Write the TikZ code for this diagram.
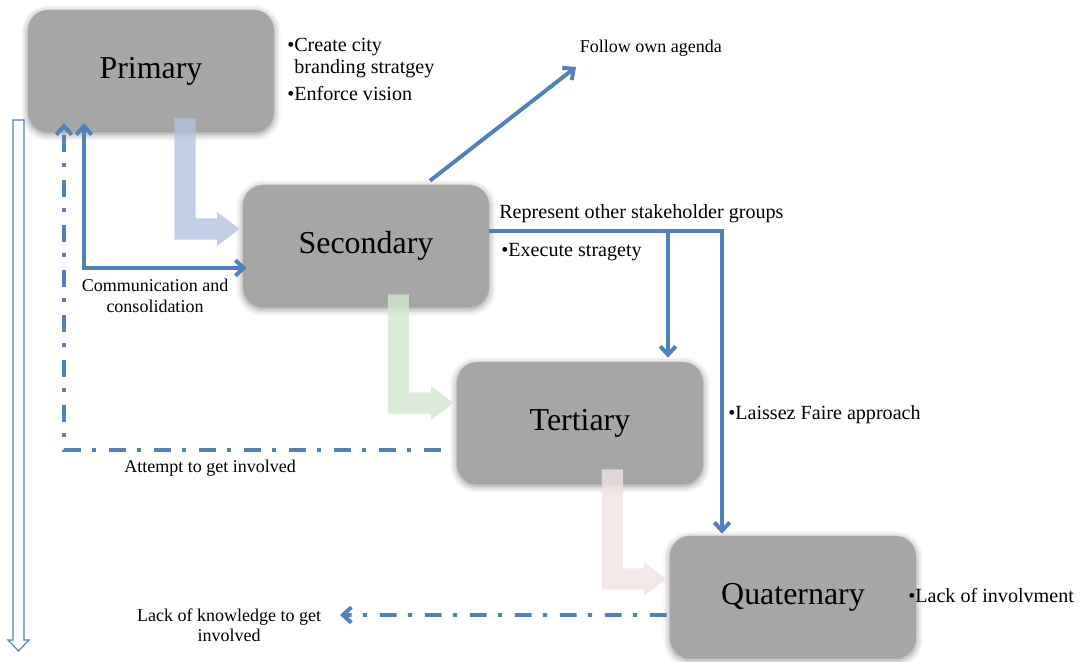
\documentclass[tikz,border=0pt]{standalone}
\usepackage{fontspec}
\setmainfont{Liberation Serif}
\usetikzlibrary{arrows.meta,positioning,shadows.blur}

\definecolor{linkblue}{RGB}{79,129,189}
\definecolor{boxgray}{RGB}{166,166,166}
\definecolor{flowblue}{RGB}{178,194,222}
\definecolor{flowgreen}{RGB}{210,232,208}
\definecolor{flowpink}{RGB}{240,226,226}

\tikzset{
  stage/.style={rounded corners=0.5cm, fill=boxgray, minimum width=6.15cm,
    minimum height=3.05cm, font=\fontsize{22.7}{27}\selectfont,
    blur shadow={shadow xshift=0pt, shadow yshift=-1.5pt, shadow blur radius=5pt, shadow opacity=45}},
  link/.style={draw=linkblue, line width=2.8pt, ->},
  dashlink/.style={link, dash pattern=on 12pt off 9pt on 3pt off 8pt},
  flow/.style={line width=15pt, -{Triangle[length=16pt,width=23pt]}},
  note/.style={font=\fontsize{12.8}{14.5}\selectfont, align=center},
  point/.style={font=\fontsize{14.3}{16}\selectfont, align=left, anchor=west, inner sep=0pt},
  >={Straight Barb[length=6pt,width=11pt]}
}

\begin{document}
\begin{tikzpicture}[x=0.025cm, y=-0.025cm]
  \useasboundingbox (0,0) rectangle (1086,662);

  % stakeholder levels
  \node[stage] (prim) at (151,71) {Primary};
  \node[stage] (sec) at (366,246) {Secondary};
  \node[stage] (ter) at (580,423) {Tertiary};
  \node[stage] (quat) at (793,597) {Quaternary};

  % flow between levels
  \begin{scope}[transparency group, opacity=0.8]
    \draw[flow, flowblue] ([xshift=0.85cm,yshift=0.35cm]prim.south) |- ([xshift=-0.075cm,yshift=0.425cm]sec.west);
  \end{scope}
  \begin{scope}[transparency group, opacity=0.8]
    \draw[flow, flowgreen] ([xshift=0.81cm,yshift=0.325cm]sec.south) |- ([xshift=-0.075cm,yshift=0.5cm]ter.west);
  \end{scope}
  \begin{scope}[transparency group, opacity=0.8]
    \draw[flow, flowpink] ([xshift=0.81cm,yshift=0.375cm]ter.south) |- ([xshift=-0.075cm,yshift=0.45cm]quat.west);
  \end{scope}

  % level notes
  \node[point, anchor=north west] (primnote) at (287,35) {%
    \begin{tabular}{@{}l@{}l@{}}
      \textbullet & Create city\\
      & branding stratgey\\[3pt]
      \textbullet & Enforce vision
    \end{tabular}};
  \node[point] (secnote) at (501,252) {\textbullet Execute stragety};
  \node[point] (ternote) at (728,415) {\textbullet Laissez Faire approach};
  \node[point] (quatnote) at (908,596) {\textbullet Lack of involvment};

  % connectors
  \coordinate (agenda) at (576,67);
  \node[note, anchor=west] (agendalbl) at (575,48) {Follow own agenda};
  \draw[link] ([xshift=1.6cm,yshift=0.1cm]sec.north) -- (agenda);

  \draw[link, <->] ([xshift=-1.675cm,yshift=0.225cm]prim.south) |- ([xshift=0.1cm,yshift=-0.55cm]sec.west);
  \node[note] (commlbl) at (155,296) {Communication and\\consolidation};

  \coordinate (rep) at ([yshift=0.375cm]sec.east);
  \coordinate (tertop) at ([xshift=2.2cm,yshift=0.1cm]ter.north);
  \draw[link] (rep) -| ([xshift=-1.775cm,yshift=0.05cm]quat.north);
  \draw[link] (rep -| tertop) -- (tertop);
  \node[point] (replbl) at (499,214) {Represent other stakeholder groups};

  \draw[dashlink] ([xshift=-0.4cm,yshift=-0.675cm]ter.west) -| ([xshift=-2.175cm,yshift=0.225cm]prim.south);
  \node[note] (attemptlbl) at (210,468) {Attempt to get involved};

  \coordinate (lack) at (340,615);
  \draw[dashlink] ([xshift=-0.075cm,yshift=-0.45cm]quat.west) -- (lack);
  \node[note, anchor=east] (lacklbl) at (326,625) {Lack of knowledge to get\\involved};

  % hollow arrow on the left
  \draw[linkblue, line width=0.8pt, fill=white]
    (13,120) -- (24,120) -- (24,640) -- (29,640) -- (18.5,651) -- (8,640) -- (13,640) -- cycle;
\end{tikzpicture}
\end{document}
